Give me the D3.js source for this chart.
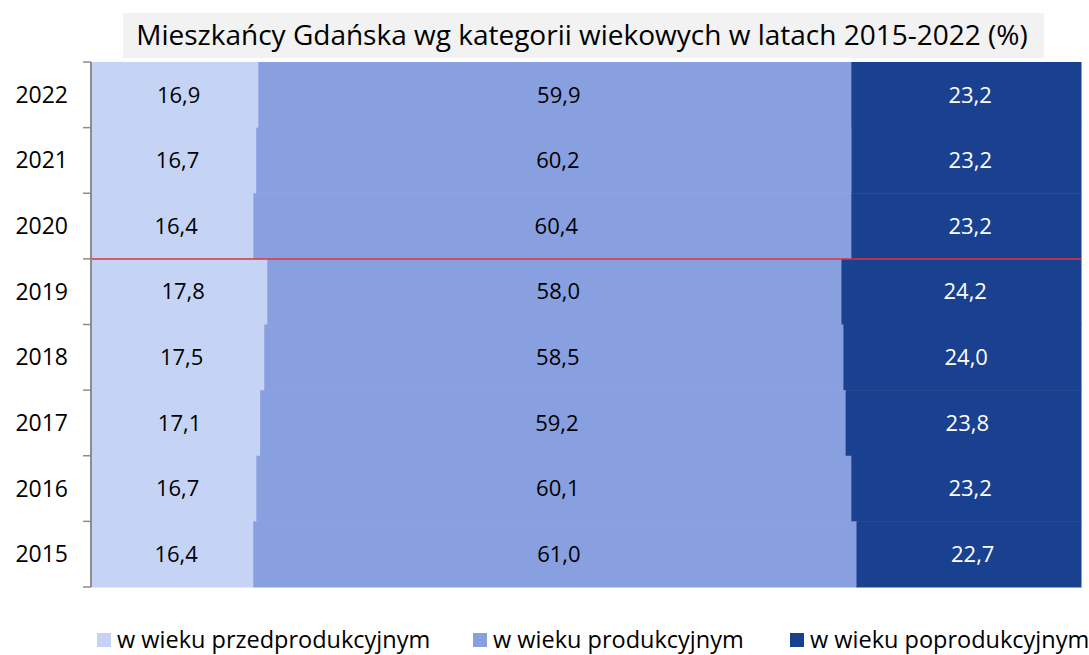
<!DOCTYPE html>
<meta charset="utf-8">
<script src="https://d3js.org/d3.v7.min.js"></script>
<style>
  body { margin: 0; background: #fff; }
  text { font-family: "Liberation Sans Narrow", "Open Sans", "Noto Sans", sans-serif; }
</style>
<div id="my_dataviz"></div>
<script>

// data
var years = ["2022", "2021", "2020", "2019", "2018", "2017", "2016", "2015"];
var przed = [16.9, 16.7, 16.4, 17.8, 17.5, 17.1, 16.7, 16.4];
var prod  = [59.9, 60.2, 60.4, 58.0, 58.5, 59.2, 60.1, 61.0];
var popr  = [23.2, 23.2, 23.2, 24.2, 24.0, 23.8, 23.2, 22.7];
var seriesNames = ["w wieku przedprodukcyjnym", "w wieku produkcyjnym", "w wieku poprodukcyjnym"];
var colors = ["#C5D4F4", "#889FE0", "#1A4190"];
var labelColors = ["#000", "#000", "#fff"];

var W = 1089, H = 655;
var margin = {top: 62, right: 8, bottom: 68, left: 91},
    width = W - margin.left - margin.right,
    height = H - margin.top - margin.bottom;

var svg = d3.select("#my_dataviz")
  .append("svg")
    .attr("width", W)
    .attr("height", H);

// title
svg.append("rect")
  .attr("x", 123).attr("y", 13)
  .attr("width", 921).attr("height", 45)
  .style("fill", "#F2F2F2");
svg.append("text")
  .attr("x", 582).attr("y", 45)
  .attr("text-anchor", "middle")
  .style("font-size", "28px")
  .style("fill", "#000")
  .text("Mieszkańcy Gdańska wg kategorii wiekowych w latach 2015-2022 (%)");

var g = svg.append("g")
  .attr("transform", "translate(" + margin.left + "," + margin.top + ")");

var rows = years.map(function(y, i) {
  var vals = [przed[i], prod[i], popr[i]];
  var tot = d3.sum(vals);
  var acc = 0;
  return vals.map(function(v, k) {
    var seg = {year: y, k: k, v: v, x0: acc / tot * 100};
    acc += v;
    seg.x1 = acc / tot * 100;
    return seg;
  });
});

var x = d3.scaleLinear().domain([0, 100]).range([0, width]);
var y = d3.scaleBand().domain(years).range([0, height]).padding(0);

g.selectAll("g.row")
  .data(rows)
  .enter().append("g")
  .attr("class", "row")
  .each(function(segs) {
    var row = d3.select(this);
    row.selectAll("rect")
      .data(segs)
      .enter().append("rect")
        .attr("x", function(d) { return x(d.x0); })
        .attr("y", function(d) { return y(d.year); })
        .attr("width", function(d) { return x(d.x1) - x(d.x0) + 0.5; })
        .attr("height", y.bandwidth() + 0.5)
        .style("fill", function(d) { return colors[d.k]; });
    row.selectAll("text")
      .data(segs)
      .enter().append("text")
        .attr("x", function(d) { return (x(d.x0) + x(d.x1)) / 2 + 4; })
        .attr("y", function(d) { return y(d.year) + y.bandwidth() / 2; })
        .attr("dy", "0.35em")
        .attr("text-anchor", "middle")
        .style("font-size", "22px")
        .style("fill", function(d) { return labelColors[d.k]; })
        .text(function(d) { return d3.format(".1f")(d.v).replace(".", ","); });
  });

// red separator between 2020 and 2019
g.append("line")
  .attr("x1", 0).attr("x2", width)
  .attr("y1", y("2019")).attr("y2", y("2019"))
  .style("stroke", "#E0323C")
  .style("stroke-width", 1.5);

// y axis
var yAxis = g.append("g");
yAxis.append("line")
  .attr("x1", 0).attr("x2", 0)
  .attr("y1", 0).attr("y2", height)
  .style("stroke", "#8C8C8C").style("stroke-width", 2);
var bounds = years.map(function(d) { return y(d); }).concat([height]);
yAxis.selectAll("line.tick")
  .data(bounds)
  .enter().append("line")
    .attr("class", "tick")
    .attr("x1", -8).attr("x2", 0)
    .attr("y1", function(d) { return d; }).attr("y2", function(d) { return d; })
    .style("stroke", "#8C8C8C").style("stroke-width", 1.5);
yAxis.selectAll("text")
  .data(years)
  .enter().append("text")
    .attr("x", -23)
    .attr("y", function(d) { return y(d) + y.bandwidth() / 2; })
    .attr("dy", "0.35em")
    .attr("text-anchor", "end")
    .style("font-size", "23px")
    .style("fill", "#000")
    .text(function(d) { return d; });

// legend
var legX = [97, 473, 790];
var leg = svg.append("g").selectAll("g")
  .data(seriesNames)
  .enter().append("g")
  .attr("transform", function(d, i) { return "translate(" + legX[i] + ",633)"; });
leg.append("rect")
  .attr("width", 14).attr("height", 14)
  .style("fill", function(d, i) { return colors[i]; });
leg.append("text")
  .attr("x", 20).attr("y", 7)
  .attr("dy", "0.35em")
  .style("font-size", "23.5px")
  .style("fill", "#000")
  .text(function(d) { return d; });
</script>
